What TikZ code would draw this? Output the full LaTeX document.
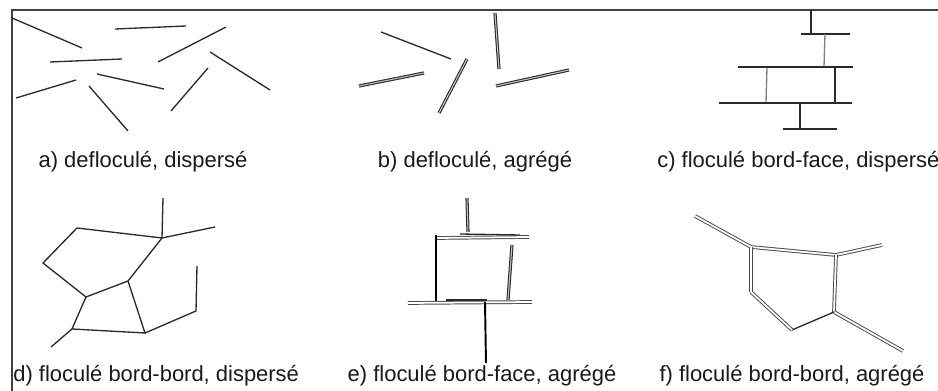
\documentclass[tikz,border=0pt]{standalone}
\usepackage{fontspec}
\setmainfont{Liberation Sans}
\usetikzlibrary{positioning}
\definecolor{frameGray}{HTML}{404040}
\definecolor{plateDark}{HTML}{2A2A2A}
\definecolor{plateGray}{HTML}{808080}
\definecolor{labelDark}{HTML}{1A1A1A}

\begin{document}
\begin{tikzpicture}[
  x=0.02cm, y=-0.02cm,
  every node/.style={font=\fontsize{12.5}{15}\selectfont, text=labelDark, inner sep=0pt},
  frameline/.style={draw=frameGray, line width=1.1pt},
  plate/.style={draw=plateDark, line width=0.75pt},
  lightplate/.style={draw=plateGray, line width=0.75pt},
  heavyplate/.style={draw=black, line width=1.1pt},
  stack/.style={draw=black!85, line width=0.6pt, double=white!55!gray, double distance=0.6pt},
  graystack/.style={draw=black!70, line width=0.55pt, double=white, double distance=1pt},
  caption/.style={anchor=center},
]
\useasboundingbox (0,0) rectangle (938,391);
\fill[white] (0,0) rectangle (938,391);

% === FRAME ===
\draw[frameline] (12,391) -- (12,10) -- (938,10);

% === A) DEFLOCULE, DISPERSE ===
\draw[plate] (12,18) -- (82,48);
\draw[plate] (115,29) -- (186,26);
\draw[plate] (50,62) -- (122,59);
\draw[plate] (158,62) -- (226,27);
\draw[plate] (210,52) -- (270,90);
\draw[plate] (16,98) -- (76,80);
\draw[plate] (97,74) -- (164,89);
\draw[plate] (89,86) -- (128,131);
\draw[plate] (171,111) -- (208,68);
\node[caption] (capA) at (143,162) {a) defloculé, dispersé};

% === B) DEFLOCULE, AGREGE ===
\draw[plate] (381,32) -- (451,59);
\draw[stack] (359,86) -- (424,73);
\draw[stack] (439,113) -- (467,59);
\draw[stack] (495,13) -- (499,69);
\draw[stack] (496,86) -- (569,70);
\node[caption] (capB) at (475,162) {b) defloculé, agrégé};

% === C) FLOCULE BORD-FACE, DISPERSE ===
\draw[plate] (811,10) -- (811,33);
\draw[plate] (801,34) -- (850,34);
\draw[lightplate] (825,34) -- (824,67);
\draw[plate] (738,67) -- (853,67);
\draw[lightplate] (767,68) -- (766,102);
\draw[plate] (835,68) -- (835,102);
\draw[plate] (719,103) -- (852,103);
\draw[plate] (800,103) -- (800,129);
\draw[plate] (783,129) -- (837,129);
\node[caption, anchor=west] (capC) at (657,162) {c) floculé bord-face, dispersé};

% === D) FLOCULE BORD-BORD, DISPERSE ===
\coordinate (dA) at (77,228);
\coordinate (dB) at (43,263);
\coordinate (dC) at (86,297);
\coordinate (dD) at (128,281);
\coordinate (dE) at (162,238);
\coordinate (dEt) at (163,198);
\coordinate (dEr) at (215,227);
\coordinate (dF) at (72,329);
\coordinate (dFt) at (51,347);
\coordinate (dG) at (145,333);
\coordinate (dH) at (196,311);
\coordinate (dHt) at (197,266);
\draw[plate] (dE) -- (dA) -- (dB) -- (dC) -- (dD) -- (dE);
\draw[plate] (dC) -- (dF) -- (dG) -- (dD);
\draw[plate] (dG) -- (dH) -- (dHt);
\draw[plate] (dE) -- (dEt);
\draw[plate] (dE) -- (dEr);
\draw[plate] (dF) -- (dFt);
\node[caption, anchor=west] (capD) at (13,376) {d) floculé bord-bord, dispersé};

% === E) FLOCULE BORD-FACE, AGREGE ===
\draw[stack] (467,198) -- (468,232);
\draw[graystack] (437,238) -- (529,237);
\draw[plate] (460,234) -- (520,235);
\draw[heavyplate] (436,235) -- (436,302);
\draw[stack] (512,245) -- (508,300);
\draw[graystack] (408,303) -- (532,302);
\draw[plate] (446,300) -- (487,300);
\draw[heavyplate] (485,302) -- (486,363);
\node[caption] (capE) at (482,376) {e) floculé bord-face, agrégé};

% === F) FLOCULE BORD-BORD, AGREGE ===
\coordinate (fA) at (695,216);
\coordinate (fB) at (751,247);
\coordinate (fC) at (836,255);
\coordinate (fCr) at (882,245);
\coordinate (fD) at (834,312);
\coordinate (fDt) at (903,351);
\coordinate (fE) at (792,330);
\coordinate (fF) at (751,292);
\draw[graystack] (fA) -- (fB);
\draw[graystack] (fB) -- (fC);
\draw[graystack] (fC) -- (fCr);
\draw[graystack] (fC) -- (fD);
\draw[graystack] (fD) -- (fDt);
\draw[plate] (fD) -- (fE);
\draw[graystack] (fE) -- (fF);
\draw[graystack] (fF) -- (fB);
\node[caption] (capF) at (792,376) {f) floculé bord-bord, agrégé};

\end{tikzpicture}
\end{document}
